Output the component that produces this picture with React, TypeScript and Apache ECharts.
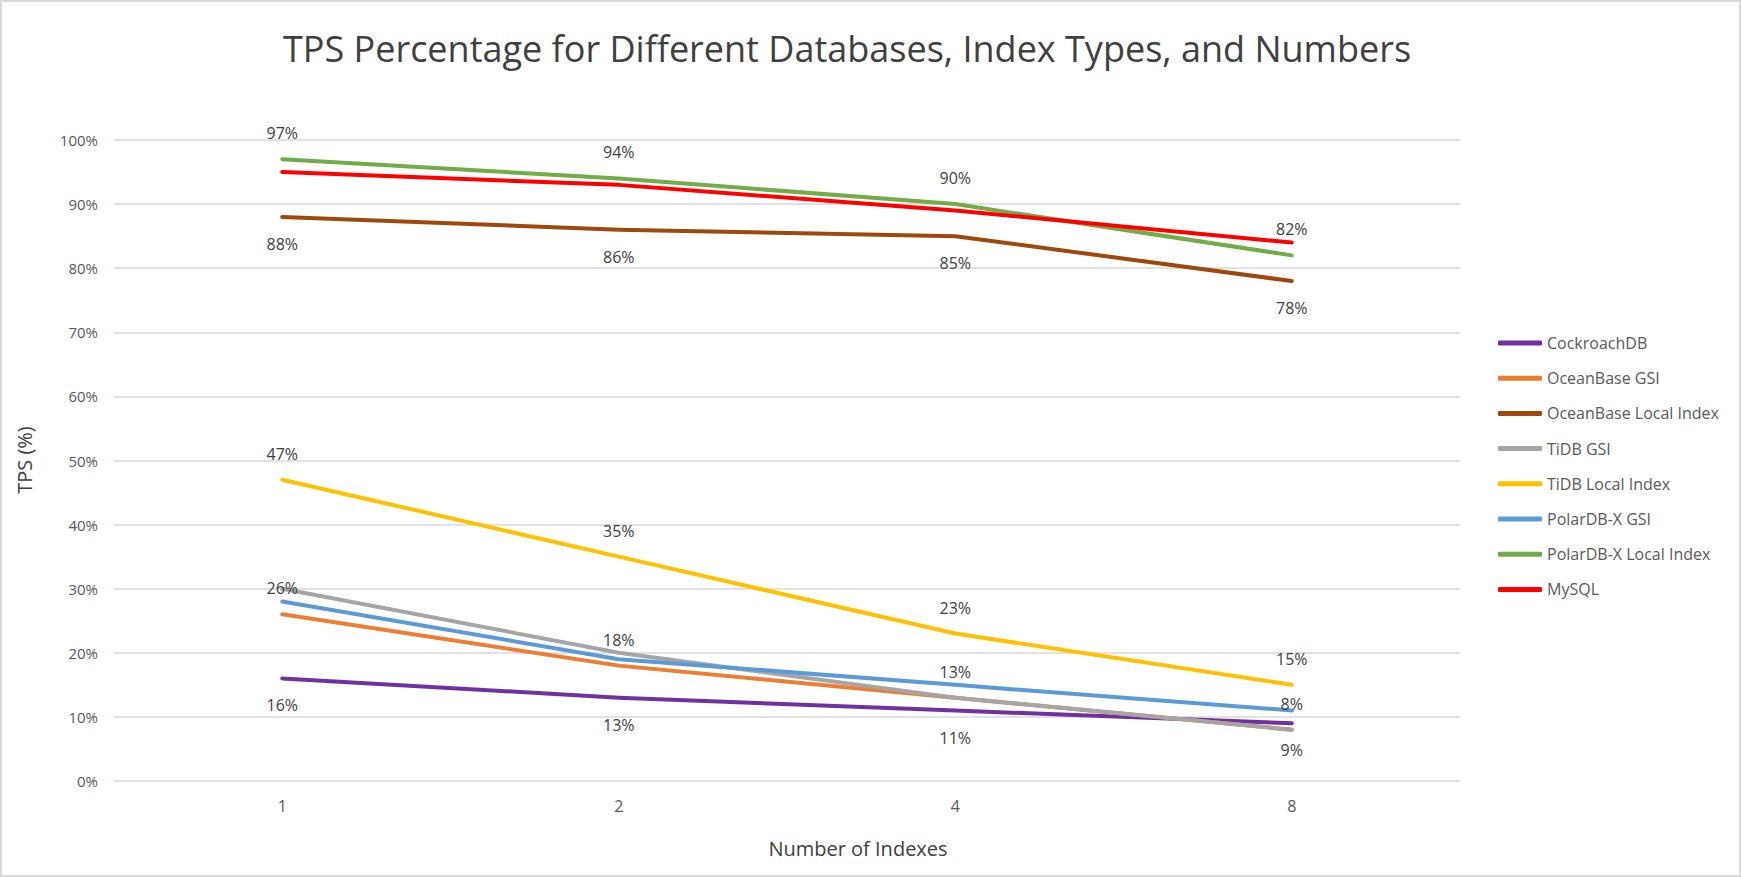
import React, { useEffect, useRef } from "react";
import * as echarts from "echarts";

const categories = ["1", "2", "4", "8"];
const seriesNames = [
  "CockroachDB",
  "OceanBase GSI",
  "OceanBase Local Index",
  "TiDB GSI",
  "TiDB Local Index",
  "PolarDB-X GSI",
  "PolarDB-X Local Index",
  "MySQL",
];
const cockroach = [16, 13, 11, 9];
const oceanGsi = [26, 18, 13, 8];
const oceanLocal = [88, 86, 85, 78];
const tidbGsi = [30, 20, 13, 8];
const tidbLocal = [47, 35, 23, 15];
const polarGsi = [28, 19, 15, 11];
const polarLocal = [97, 94, 90, 82];
const mysql = [95, 93, 89, 84];
const yTicks = [0, 10, 20, 30, 40, 50, 60, 70, 80, 90, 100];

const colors = ["#7030a0", "#ed7d31", "#9e480e", "#a5a5a5", "#ffc000", "#5b9bd5", "#70ad47", "#ff0000"];
const values = [cockroach, oceanGsi, oceanLocal, tidbGsi, tidbLocal, polarGsi, polarLocal, mysql];
// label placement: null = no label
const labelPos: (string | null)[] = ["bottom", "top", "bottom", null, "top", null, "top", null];

const FONT = "'Open Sans', 'Noto Sans', sans-serif";

export default function App() {
  const ref = useRef<HTMLDivElement>(null);
  useEffect(() => {
    document.body.style.margin = "0";
    const chart = echarts.init(ref.current!, undefined, { renderer: "svg" });
    chart.setOption({
      animation: false,
      backgroundColor: "#ffffff",
      textStyle: { fontFamily: FONT },
      title: {
        text: "TPS Percentage for Different Databases, Index Types, and Numbers",
        left: 842,
        top: 25,
        textAlign: "center",
        textStyle: { fontSize: 36, fontWeight: "normal", color: "#404040", fontFamily: FONT },
      },
      graphic: [
        {
          type: "rect",
          shape: { x: 1, y: 1, width: 1739, height: 875 },
          style: { fill: "none", stroke: "#d9d9d9", lineWidth: 2 },
          silent: true,
        },
        {
          type: "text",
          x: 858,
          y: 848,
          style: {
            text: "Number of Indexes",
            fontSize: 20,
            fill: "#404040",
            fontFamily: FONT,
            textAlign: "center",
            textVerticalAlign: "middle",
          },
        },
        {
          type: "text",
          x: 24,
          y: 460,
          rotation: Math.PI / 2,
          style: {
            text: "TPS (%)",
            fontSize: 20,
            fill: "#404040",
            fontFamily: FONT,
            textAlign: "center",
            textVerticalAlign: "middle",
          },
        },
      ],
      legend: {
        orient: "vertical",
        left: 1493,
        top: 328,
        itemWidth: 44,
        itemHeight: 5,
        itemGap: 15.2,
        icon: "roundRect",
        data: seriesNames,
        textStyle: { fontSize: 16, color: "#595959", lineHeight: 20, fontFamily: FONT },
      },
      grid: { left: 114, right: 281, top: 140, bottom: 96 },
      xAxis: {
        type: "category",
        data: categories,
        boundaryGap: true,
        axisLine: { show: false },
        axisTick: { show: false },
        axisLabel: { fontSize: 16, color: "#595959", margin: 17, fontFamily: FONT },
      },
      yAxis: {
        type: "value",
        min: yTicks[0],
        max: yTicks[yTicks.length - 1],
        interval: 10,
        axisLine: { show: false },
        axisTick: { show: false },
        axisLabel: { fontSize: 15, color: "#595959", margin: 16, formatter: "{value}%", fontFamily: FONT },
        splitLine: { lineStyle: { color: "#d9d9d9", width: 1.5 } },
      },
      series: seriesNames.map((name, i) => ({
        name,
        type: "line",
        data: values[i],
        symbol: "circle",
        symbolSize: 0.1,
        showSymbol: true,
        color: colors[i],
        lineStyle: { width: 4, color: colors[i], cap: "round", join: "round" },
        itemStyle: { color: colors[i] },
        label: labelPos[i]
          ? {
              show: true,
              position: labelPos[i],
              distance: labelPos[i] === "top" ? 18 : 19,
              formatter: "{c}%",
              fontSize: 16,
              color: "#404040",
              fontFamily: FONT,
            }
          : { show: false },
      })),
    });
    return () => chart.dispose();
  }, []);
  return <div ref={ref} style={{ width: 1741, height: 877 }} />;
}
